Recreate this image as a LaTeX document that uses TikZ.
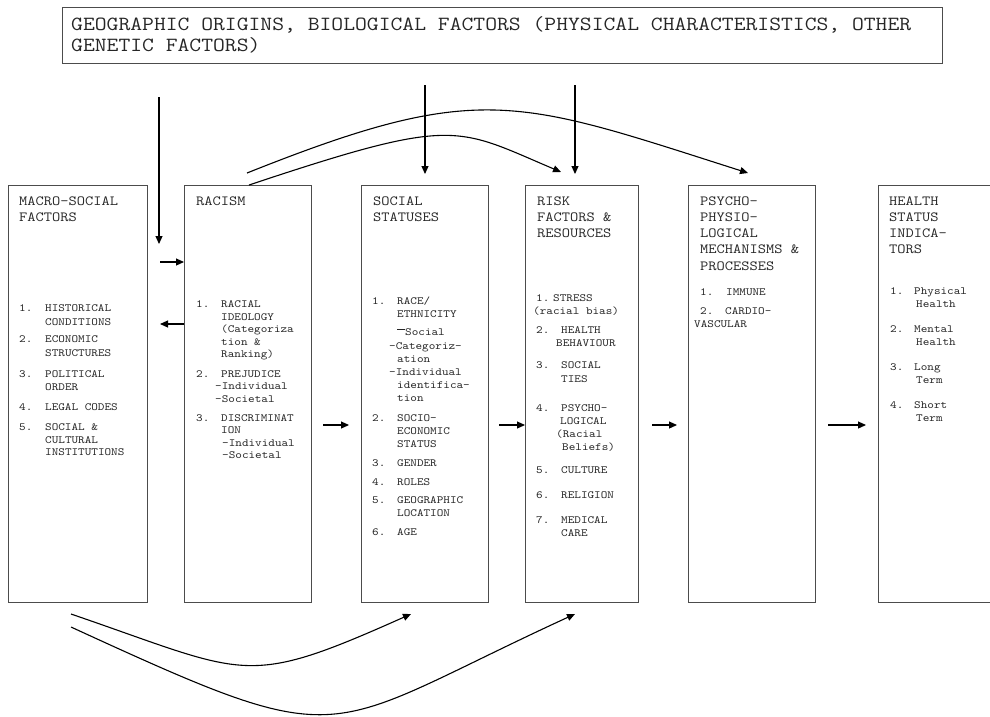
\documentclass[tikz,border=0pt]{standalone}
\usepackage{fontspec}
\newfontfamily\cour{Latin Modern Mono}[FakeStretch=1.143]
\usetikzlibrary{arrows.meta}
\newcommand\nm[2]{\makebox[#1][l]{#2}}
\begin{document}
\begin{tikzpicture}[x=1pt,y=-1pt,
  box/.style={draw=black!70,line width=0.9pt,rectangle,inner sep=0pt,outer sep=0pt,anchor=north west},
  ttl/.style={font=\cour\fontsize{20.1}{22}\selectfont,text=black!85,anchor=base west,inner sep=0pt},
  hd/.style={font=\cour\fontsize{14}{16}\selectfont,text=black!85,anchor=base west,inner sep=0pt},
  it/.style={font=\cour\fontsize{11}{13}\selectfont,text=black!85,anchor=base west,inner sep=0pt},
  arr/.style={-{Triangle[length=8pt,width=7pt]},line width=1.1pt,black}]
\useasboundingbox (0,0) rectangle (990,716);
% boxes
\node[box,minimum width=880pt,minimum height=56pt] (geo) at (62,7) {};
\node[box,minimum width=139pt,minimum height=417pt] (macro) at (8,185) {};
\node[box,minimum width=127pt,minimum height=417pt] (racism) at (184,185) {};
\node[box,minimum width=127pt,minimum height=417pt] (social) at (361,185) {};
\node[box,minimum width=113pt,minimum height=417pt] (risk) at (525,185) {};
\node[box,minimum width=127pt,minimum height=417pt] (psycho) at (688,185) {};
\node[box,minimum width=130pt,minimum height=417pt] (health) at (878,185) {};
% title
\node[ttl] (g1) at (71,30.5) {GEOGRAPHIC ORIGINS, BIOLOGICAL FACTORS (PHYSICAL CHARACTERISTICS, OTHER};
\node[ttl] (g2) at (71,51.5) {GENETIC FACTORS)};
% macro
\node[hd] (mh1) at (19,205) {MACRO-SOCIAL};
\node[hd] (mh2) at (19,221.3) {FACTORS};
\node[it] (m1a) at (19,311) {\nm{26pt}{1.}HISTORICAL};
\node[it] (m1b) at (45,325) {CONDITIONS};
\node[it] (m2a) at (19,342) {\nm{26pt}{2.}ECONOMIC};
\node[it] (m2b) at (45,356) {STRUCTURES};
\node[it] (m3a) at (19,377) {\nm{26pt}{3.}POLITICAL};
\node[it] (m3b) at (45,390) {ORDER};
\node[it] (m4) at (19,410) {\nm{26pt}{4.}LEGAL CODES};
\node[it] (m5a) at (19,430.5) {\nm{26pt}{5.}SOCIAL \&};
\node[it] (m5b) at (45,443) {CULTURAL};
\node[it] (m5c) at (45,455.5) {INSTITUTIONS};
% racism
\node[hd] (rh1) at (196,205) {RACISM};
\node[it] (r1a) at (196,307) {\nm{25pt}{1.}RACIAL};
\node[it] (r1b) at (221,320) {IDEOLOGY};
\node[it] (r1c) at (221,332.5) {(Categoriza};
\node[it] (r1d) at (221,345) {tion \&};
\node[it] (r1e) at (221,357.5) {Ranking)};
\node[it] (r2a) at (196,377) {\nm{25pt}{2.}PREJUDICE};
\node[it] (r2b) at (215,389.5) {-Individual};
\node[it] (r2c) at (215,402) {-Societal};
\node[it] (r3a) at (196,421) {\nm{25pt}{3.}DISCRIMINAT};
\node[it] (r3b) at (221,433.5) {ION};
\node[it] (r3c) at (222,446) {-Individual};
\node[it] (r3d) at (222,458.5) {-Societal};
% social
\node[hd] (sh1) at (373,205) {SOCIAL};
\node[hd] (sh2) at (373,221.3) {STATUSES};
\node[it] (s1a) at (372,304) {\nm{25pt}{1.}RACE/};
\node[it] (s1b) at (397,317) {ETHNICITY};
\node[it] (s1c) at (397,335) {\rule[0.42em]{8pt}{1.5pt}Social};
\node[it] (s1d) at (389,349) {-Categoriz-};
\node[it] (s1e) at (397,362) {ation};
\node[it] (s1f) at (389,375) {-Individual};
\node[it] (s1g) at (397,388) {identifica-};
\node[it] (s1h) at (397,401) {tion};
\node[it] (s2a) at (372,421) {\nm{25pt}{2.}SOCIO-};
\node[it] (s2b) at (397,434) {ECONOMIC};
\node[it] (s2c) at (397,447) {STATUS};
\node[it] (s3) at (372,466) {\nm{25pt}{3.}GENDER};
\node[it] (s4) at (372,485) {\nm{25pt}{4.}ROLES};
\node[it] (s5a) at (372,503) {\nm{25pt}{5.}GEOGRAPHIC};
\node[it] (s5b) at (397,516) {LOCATION};
\node[it] (s6) at (372,535) {\nm{25pt}{6.}AGE};
% risk
\node[hd] (kh1) at (537,205) {RISK};
\node[hd] (kh2) at (537,221.3) {FACTORS \&};
\node[hd] (kh3) at (537,237.6) {RESOURCES};
\node[it] (k1a) at (536,301) {\nm{17pt}{1.}STRESS};
\node[it] (k1b) at (533,314) {(racial bias)};
\node[it] (k2a) at (536,333) {\nm{25pt}{2.}HEALTH};
\node[it] (k2b) at (556,346) {BEHAVIOUR};
\node[it] (k3a) at (536,368) {\nm{25pt}{3.}SOCIAL};
\node[it] (k3b) at (561,382) {TIES};
\node[it] (k4a) at (536,411) {\nm{25pt}{4.}PSYCHO-};
\node[it] (k4b) at (560,424) {LOGICAL};
\node[it] (k4c) at (556,437) {(Racial};
\node[it] (k4d) at (562,450) {Beliefs)};
\node[it] (k5) at (536,473) {\nm{25pt}{5.}CULTURE};
\node[it] (k6) at (536,498) {\nm{25pt}{6.}RELIGION};
\node[it] (k7a) at (536,523) {\nm{25pt}{7.}MEDICAL};
\node[it] (k7b) at (561,536) {CARE};
% psycho
\node[hd] (ph1) at (700,205) {PSYCHO-};
\node[hd] (ph2) at (700,221.3) {PHYSIO-};
\node[hd] (ph3) at (700,237.6) {LOGICAL};
\node[hd] (ph4) at (700,253.9) {MECHANISMS \&};
\node[hd] (ph5) at (700,270.2) {PROCESSES};
\node[it] (p1) at (700,295.5) {\nm{26pt}{1.}IMMUNE};
\node[it] (p2a) at (700,314) {\nm{25pt}{2.}CARDIO-};
\node[it] (p2b) at (694,327) {VASCULAR};
% health
\node[hd] (hh1) at (889,205) {HEALTH};
\node[hd] (hh2) at (889,221.3) {STATUS};
\node[hd] (hh3) at (889,237.6) {INDICA-};
\node[hd] (hh4) at (889,253.9) {TORS};
\node[it] (h1a) at (890,294) {\nm{24pt}{1.}Physical};
\node[it] (h1b) at (916,307) {Health};
\node[it] (h2a) at (890,332) {\nm{24pt}{2.}Mental};
\node[it] (h2b) at (916,345) {Health};
\node[it] (h3a) at (890,370) {\nm{24pt}{3.}Long};
\node[it] (h3b) at (916,383) {Term};
\node[it] (h4a) at (890,408) {\nm{24pt}{4.}Short};
\node[it] (h4b) at (916,421) {Term};
% coordinates
\coordinate (va1) at (159,97);
\coordinate (va2) at (159,244);
\coordinate (ra) at (160,262);
\coordinate (la) at (160,324);
\coordinate (t1a) at (425,85);
\coordinate (t1b) at (425,174);
\coordinate (t2a) at (575,85);
\coordinate (t2b) at (575,174);
\coordinate (h1s) at (323,425);
\coordinate (h1e) at (349,425);
\coordinate (h2s) at (499,425);
\coordinate (h3s) at (652,425);
\coordinate (h3e) at (677,425);
\coordinate (h4s) at (828,425);
\coordinate (h4e) at (866,425);
\coordinate (c1s) at (247,173);
\coordinate (c1e) at (748,173);
\coordinate (c2s) at (249,185);
\coordinate (c2e) at (561,172);
\coordinate (b1s) at (71,614);
\coordinate (b1e) at (411,614);
\coordinate (b2s) at (71,627);
\coordinate (b2e) at (575,614);
% connectors
\draw[arr] (va1) -- (va2);
\draw[arr] (ra) -- (ra -| racism.west);
\draw[arr] (la -| racism.west) -- (la);
\draw[arr] (t1a) -- (t1b);
\draw[arr] (t2a) -- (t2b);
\draw[arr] (h1s) -- (h1e);
\draw[arr] (h2s) -- (h2s -| risk.west);
\draw[arr] (h3s) -- (h3e);
\draw[arr] (h4s) -- (h4e);
\draw[arr] (c1s) .. controls (480,80) and (516,99) .. (c1e);
\draw[arr] (c2s) .. controls (456,116) and (455,127) .. (c2e);
\draw[arr] (b1s) .. controls (249,675) and (243,689) .. (b1e);
\draw[arr] (b2s) .. controls (354,757) and (316,733) .. (b2e);
\end{tikzpicture}
\end{document}
